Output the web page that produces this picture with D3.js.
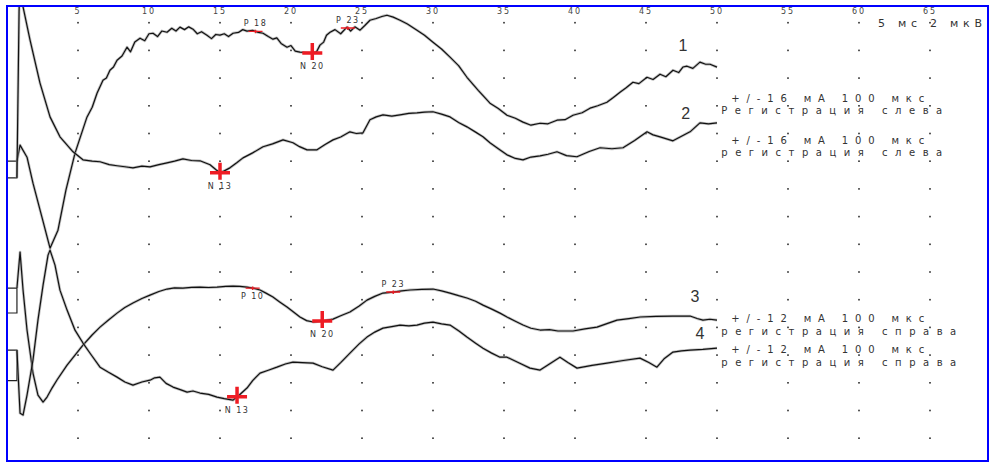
<!DOCTYPE html>
<html>
<head>
<meta charset="utf-8">
<script src="https://cdn.jsdelivr.net/npm/d3@7"></script>
<style>
  body { margin: 0; background: #fff; }
  svg { display: block; }
</style>
</head>
<body>
<div id="chart"></div>
<script>
// time axis labels, ms
const timeTicks = [5, 10, 15, 20, 25, 30, 35, 40, 45, 50, 55, 60, 65];
// dotted grid rows (1 div = 2 uV)
const gridRows = [0, 1, 2, 3, 4, 5, 6, 7, 8, 9, 10, 11, 12, 13, 14, 15];
const uvPerDiv = 2;

// traces: [ms, uV], positive up, relative to each trace start level
const trace1 = [[0.70,0],[0.92,1.16],[1.41,0.29],[1.83,-1.59],[2.46,-4.04],[3.03,-6.28],[3.59,-4.98],[4.15,-2.09],[4.79,0.58],[5.63,3.18],[6.0,3.9],[6.34,4.91],[6.76,5.85],[7.0,6.0],[7.25,6.57],[7.5,6.8],[7.75,7.29],[8.1,7.6],[8.45,8.23],[8.7,7.9],[9.0,8.6],[9.37,8.88],[9.7,8.7],[10.0,9.2],[10.28,9.24],[10.6,9.0],[10.9,9.4],[11.27,9.31],[11.6,9.6],[11.9,9.4],[12.18,9.68],[12.5,9.5],[12.8,9.7],[13.10,9.53],[13.4,9.2],[13.7,9.35],[14.08,9.10],[14.4,8.85],[14.7,9.15],[15.0,9.10],[15.3,9.2],[15.6,9.0],[15.92,9.24],[16.3,9.3],[16.6,9.5],[16.90,9.39],[17.3,9.45],[17.7,9.3],[18.03,9.24],[18.4,9.0],[18.73,8.81],[19.0,8.9],[19.3,8.5],[19.72,8.23],[20.0,8.35],[20.3,7.95],[20.63,7.87],[21.0,7.85],[21.48,7.80],[21.8,7.9],[22.04,8.38],[22.3,8.6],[22.5,9.1],[22.75,9.31],[23.1,9.5],[23.5,9.2],[23.94,9.68],[24.2,9.4],[24.5,9.7],[24.86,9.46],[25.2,9.8],[25.56,10.18],[26.0,10.3],[26.4,10.45],[26.76,10.54],[27.2,10.4],[27.68,10.18],[28.2,9.9],[28.87,9.46],[29.4,9.1],[30.0,8.59],[30.6,8.1],[31.20,7.51],[31.8,6.9],[32.39,6.06],[33.2,5.1],[34.01,4.19],[34.6,3.8],[35.21,3.32],[35.8,3.1],[36.34,2.82],[36.9,2.6],[37.54,2.74],[38.1,2.7],[38.73,2.96],[39.3,3.0],[39.86,3.32],[40.5,3.5],[41.06,3.83],[41.6,4.0],[42.25,4.26],[42.7,4.6],[43.17,4.98],[43.6,5.3],[44.08,5.70],[44.5,5.6],[45.07,6.06],[45.5,5.9],[45.99,6.28],[46.4,6.1],[46.90,6.57],[47.3,6.4],[47.6,6.8],[47.89,6.86],[48.3,6.7],[48.80,7.15],[49.2,7.0],[49.51,7.00],[50.0,6.79]];

const trace2 = [[0.70,0],[0.85,12],[0.99,17.9],[1.13,12.35],[1.62,9.96],[2.32,6.86],[3.03,4.40],[3.73,2.96],[4.65,1.88],[5.35,1.30],[6.0,1.2],[6.55,1.16],[7.2,0.95],[7.75,0.87],[8.3,0.8],[8.87,0.72],[9.5,0.85],[10.07,0.79],[10.7,0.95],[11.27,1.08],[11.8,1.2],[12.39,1.37],[13.0,1.25],[13.59,1.23],[14.30,0.94],[14.7,0.6],[15.0,0.36],[15.3,0.5],[15.70,0.72],[16.2,1.1],[16.62,1.44],[17.3,1.8],[18.03,2.24],[18.7,2.45],[19.44,2.74],[20.14,2.53],[20.6,2.25],[21.13,2.02],[21.83,2.02],[22.4,2.4],[22.96,2.74],[23.5,2.95],[24.15,3.32],[24.6,3.2],[25.07,3.25],[25.56,4.19],[26.0,4.4],[26.48,4.55],[27.1,4.45],[27.68,4.55],[28.3,4.65],[28.87,4.69],[29.4,4.75],[30.0,4.77],[30.6,4.6],[31.20,4.40],[31.8,4.0],[32.39,3.68],[33.0,3.3],[33.52,2.96],[34.01,2.53],[34.6,2.1],[35.21,1.66],[35.8,1.4],[36.34,1.30],[36.9,1.5],[37.54,1.59],[38.1,1.7],[38.73,1.88],[39.4,1.6],[40.14,1.52],[41.0,1.9],[41.76,2.17],[42.6,2.1],[43.38,2.17],[44.2,2.7],[45.07,3.32],[45.5,3.1],[45.99,2.96],[46.90,2.67],[47.5,3.0],[48.10,3.32],[48.80,3.97],[49.4,3.9],[50.0,3.97]];

const trace3 = [[0.70,0],[0.92,2.60],[1.13,-0.14],[1.41,-3.03],[1.83,-6.14],[2.18,-7.73],[2.54,-8.23],[2.82,-7.87],[3.17,-7.22],[3.52,-6.64],[4.23,-5.56],[4.79,-4.84],[5.35,-4.12],[5.99,-3.39],[6.55,-2.82],[7.15,-2.3],[7.75,-1.81],[8.3,-1.4],[8.87,-1.08],[9.5,-0.75],[10.07,-0.51],[10.7,-0.25],[11.27,-0.07],[11.8,0.02],[12.39,0],[13.0,0.05],[13.59,0.07],[14.2,0.04],[14.79,0.07],[15.4,0.12],[15.92,0.14],[16.4,0.12],[16.90,0.07],[17.4,-0.02],[17.82,-0.14],[18.3,-0.4],[18.73,-0.65],[19.2,-1.0],[19.72,-1.37],[20.2,-1.75],[20.63,-2.09],[21.1,-2.35],[21.55,-2.45],[22.18,-2.38],[22.96,-2.24],[23.5,-2.0],[24.15,-1.73],[24.8,-1.3],[25.35,-0.87],[25.9,-0.6],[26.48,-0.36],[27.18,-0.29],[27.8,-0.2],[28.38,-0.14],[29.2,-0.1],[30.0,-0.07],[30.6,-0.2],[31.20,-0.36],[31.8,-0.55],[32.39,-0.72],[33.0,-0.95],[33.52,-1.23],[34.1,-1.5],[34.72,-1.81],[35.21,-2.09],[35.8,-2.4],[36.34,-2.67],[36.9,-2.9],[37.54,-3.03],[38.2,-3.0],[38.8,-3.1],[39.86,-3.10],[40.7,-2.95],[41.55,-2.82],[42.3,-2.55],[42.96,-2.31],[43.8,-2.2],[44.58,-2.09],[45.7,-2.05],[46.90,-2.02],[48.10,-2.02],[48.6,-2.2],[49.01,-2.31],[49.5,-2.25],[50.0,-2.31]];

const trace4 = [[0.70,0],[0.92,-4.55],[1.13,-4.69],[1.41,-3.25],[1.83,-0.72],[2.18,2.17],[2.54,4.69],[2.89,6.86],[3.03,7.22],[3.38,6.14],[3.73,4.33],[4.23,2.89],[4.79,1.44],[5.35,0.51],[5.9,-0.3],[6.55,-1.23],[7.15,-1.6],[7.75,-1.95],[8.3,-2.3],[8.87,-2.53],[9.5,-2.3],[10.07,-2.17],[10.4,-2.0],[10.77,-1.95],[11.2,-2.4],[11.69,-2.67],[12.2,-2.85],[12.68,-3.03],[13.1,-2.95],[13.59,-3.10],[14.2,-3.2],[14.79,-3.39],[15.3,-3.5],[15.92,-3.61],[16.4,-3.2],[16.90,-2.74],[17.3,-2.2],[17.82,-1.66],[18.4,-1.45],[19.01,-1.23],[19.6,-1.0],[20.14,-0.87],[20.8,-0.9],[21.55,-0.94],[22.2,-1.2],[22.96,-1.44],[23.5,-0.9],[24.15,-0.22],[24.8,0.45],[25.35,0.94],[25.9,1.3],[26.48,1.59],[27.1,1.7],[27.68,1.81],[28.3,1.75],[28.87,1.81],[29.4,1.95],[30.0,2.02],[30.6,1.9],[31.20,1.81],[31.8,1.4],[32.39,0.94],[33.0,0.5],[33.52,0.14],[34.1,-0.2],[34.72,-0.51],[35.21,-0.51],[36.0,-0.9],[36.83,-1.30],[37.54,-1.44],[38.2,-1.0],[38.94,-0.51],[39.5,-0.9],[40.14,-1.30],[41.2,-1.1],[42.25,-0.94],[43.4,-0.75],[44.58,-0.58],[45.2,-0.9],[45.77,-1.23],[46.3,-0.6],[46.90,-0.14],[47.5,-0.05],[48.10,0],[49.0,0.05],[50.0,0.14]];

const traces = [trace1, trace2, trace3, trace4];
// start level of each trace, in grid rows
const traceRows = [5.0, 5.6, 9.58, 11.82];
// calibration step depth, uV (0 = none)
const calDepth = [1.2, 0, 1.8, 2.2];
// trace numbers: [ms, grid row]
const traceNames = ["1", "2", "3", "4"];
const traceNameAt = [[47.6, 0.88], [47.8, 3.33], [48.45, 9.94], [48.8, 11.27]];

// peak marks
const peaks = [
  { trace: 0, t: 17.5, kind: "P", label: "P 18", side: -1 },
  { trace: 0, t: 21.5, kind: "N", label: "N 20", side: 1 },
  { trace: 0, t: 24.0, kind: "P", label: "P 23", side: -1 },
  { trace: 1, t: 15.0, kind: "N", label: "N 13", side: 1 },
  { trace: 2, t: 17.3, kind: "P", label: "P 10", side: 1 },
  { trace: 2, t: 22.2, kind: "N", label: "N 20", side: 1 },
  { trace: 2, t: 27.2, kind: "P", label: "P 23", side: -1 },
  { trace: 3, t: 16.2, kind: "N", label: "N 13", side: 1 }
];

// stimulation notes: text, grid row, indented
const notes = [
  ["+/-16 мА 100 мкс", 2.76, 1],
  ["Регистрация слева", 3.20, 0],
  ["+/-16 мА 100 мкс", 4.27, 1],
  ["регистрация слева", 4.71, 0],
  ["+/-12 мА 100 мкс", 10.71, 1],
  ["регистрация справа", 11.16, 0],
  ["+/-12 мА 100 мкс", 11.80, 1],
  ["регистрация справа", 12.27, 0]
];
const scaleNote = "5 мс 2 мкВ";

const width = 990, height = 463;

const x = d3.scaleLinear().domain([0, 65]).range([7, 930]);
const row = d3.scaleLinear().domain([0, 15]).range([22.7, 438.2]);

function yOf(i, v) {
  return row(traceRows[i] - v / uvPerDiv);
}

function valueAt(data, t) {
  const i = d3.bisector(d => d[0]).left(data, t);
  const a = data[Math.max(0, i - 1)], b = data[Math.min(data.length - 1, i)];
  if (a === b) return a[1];
  return a[1] + (t - a[0]) / (b[0] - a[0]) * (b[1] - a[1]);
}

const svg = d3.select("#chart").append("svg")
  .attr("width", width)
  .attr("height", height)
  .style("background", "#fff");

svg.append("clipPath").attr("id", "plot")
  .append("rect").attr("x", 8).attr("y", 6).attr("width", 980).attr("height", 454);

// dotted grid
const dots = [];
timeTicks.forEach(t => gridRows.forEach(r => dots.push([t, r])));
svg.append("g")
  .selectAll("rect")
  .data(dots)
  .enter().append("rect")
  .attr("x", d => x(d[0]) - 1)
  .attr("y", d => row(d[1]) - 0.8)
  .attr("width", 2)
  .attr("height", 1.6)
  .attr("fill", "#555");

// time labels
svg.append("g")
  .selectAll("text")
  .data(timeTicks)
  .enter().append("text")
  .attr("x", d => x(d))
  .attr("y", 14)
  .attr("text-anchor", "middle")
  .attr("font-family", "DejaVu Sans, sans-serif")
  .attr("font-size", 8)
  .attr("letter-spacing", 2)
  .attr("fill", "#444")
  .text(d => d);

svg.append("text")
  .attr("x", 878)
  .attr("y", 24)
  .attr("dominant-baseline", "middle")
  .attr("font-family", "DejaVu Sans, sans-serif")
  .attr("font-size", 11)
  .attr("fill", "#333")
  .attr("textLength", 104)
  .attr("lengthAdjust", "spacing")
  .text(scaleNote);

// notes
svg.append("g")
  .selectAll("text")
  .data(notes)
  .enter().append("text")
  .attr("x", d => x(50.3) + d[2] * 10)
  .attr("y", d => row(d[1]))
  .attr("dominant-baseline", "middle")
  .attr("font-family", "DejaVu Sans, sans-serif")
  .attr("font-size", 10)
  .attr("fill", "#333")
  .attr("textLength", d => d[2] ? 193 : (d[0].length > 17 ? 235 : 221))
  .attr("lengthAdjust", "spacing")
  .text(d => d[0]);

// traces
const plot = svg.append("g").attr("clip-path", "url(#plot)");

traces.forEach((data, i) => {
  const line = d3.line()
    .x(d => x(d[0]))
    .y(d => yOf(i, d[1]));

  // calibration step at the start
  if (calDepth[i] > 0) {
    plot.append("path")
      .attr("d", `M${x(0)},${yOf(i, 0)}H${x(data[0][0])}V${yOf(i, -calDepth[i])}H${x(0)}`)
      .attr("fill", "none")
      .attr("stroke", "#222")
      .attr("stroke-width", 1.2);
  }

  plot.append("path")
    .datum(data)
    .attr("d", line)
    .attr("fill", "none")
    .attr("stroke", "#999")
    .attr("stroke-opacity", 0.6)
    .attr("stroke-width", 2.8)
    .attr("stroke-linejoin", "round");

  plot.append("path")
    .datum(data)
    .attr("d", line)
    .attr("fill", "none")
    .attr("stroke", "#111")
    .attr("stroke-width", 1.2)
    .attr("stroke-linejoin", "round");
});

// peak marks
const mark = svg.append("g")
  .selectAll("g")
  .data(peaks)
  .enter().append("g")
  .attr("transform", d => `translate(${x(d.t)},${yOf(d.trace, valueAt(traces[d.trace], d.t))})`);

mark.filter(d => d.kind === "N").append("path")
  .attr("d", "M-10,0H10M0,-10V7")
  .attr("stroke", "#ee1c24")
  .attr("stroke-width", 3.5)
  .attr("fill", "none");

mark.filter(d => d.kind === "P").append("path")
  .attr("d", "M-7,0H7M0,-1.5V2")
  .attr("stroke", "#ee1c24")
  .attr("stroke-width", 1.4)
  .attr("fill", "none");

mark.append("text")
  .attr("x", 0)
  .attr("y", d => d.side < 0 ? -5 : (d.kind === "N" ? 16 : 11))
  .attr("text-anchor", "middle")
  .attr("font-family", "DejaVu Sans, sans-serif")
  .attr("font-size", 8)
  .attr("letter-spacing", 1.5)
  .attr("fill", "#333")
  .text(d => d.label);

// trace numbers
svg.append("g")
  .selectAll("text")
  .data(traceNames)
  .enter().append("text")
  .attr("x", (d, i) => x(traceNameAt[i][0]))
  .attr("y", (d, i) => row(traceNameAt[i][1]))
  .attr("text-anchor", "middle")
  .attr("dominant-baseline", "middle")
  .attr("font-family", "Liberation Sans, Arial, sans-serif")
  .attr("font-size", 16)
  .attr("fill", "#333")
  .text(d => d);

// frame
svg.append("rect")
  .attr("x", 7)
  .attr("y", 6)
  .attr("width", 981)
  .attr("height", 455)
  .attr("fill", "none")
  .attr("stroke", "#0000ff")
  .attr("stroke-width", 2);
</script>
</body>
</html>
